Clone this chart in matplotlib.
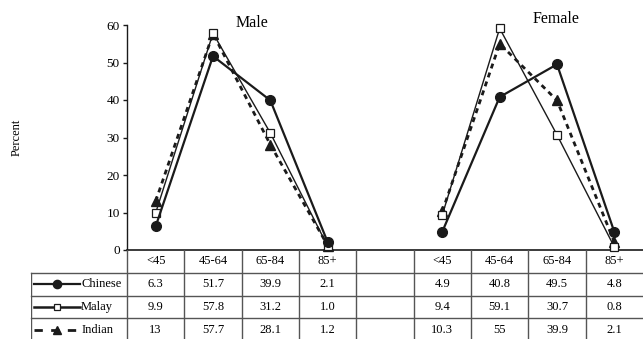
import matplotlib.pyplot as plt

plt.rcParams['font.family'] = ['Liberation Serif', 'DejaVu Serif']

age_groups = ['<45', '45-64', '65-84', '85+']
groups = ['Chinese', 'Malay', 'Indian']

male_chinese = [6.3, 51.7, 39.9, 2.1]
male_malay = [9.9, 57.8, 31.2, 1.0]
male_indian = [13, 57.7, 28.1, 1.2]

female_chinese = [4.9, 40.8, 49.5, 4.8]
female_malay = [9.4, 59.1, 30.7, 0.8]
female_indian = [10.3, 55, 39.9, 2.1]

male_labels = [['6.3', '51.7', '39.9', '2.1'],
               ['9.9', '57.8', '31.2', '1.0'],
               ['13', '57.7', '28.1', '1.2']]
female_labels = [['4.9', '40.8', '49.5', '4.8'],
                 ['9.4', '59.1', '30.7', '0.8'],
                 ['10.3', '55', '39.9', '2.1']]

W, H = 643, 339
fig = plt.figure(figsize=(W / 100, H / 100), dpi=100)

def px_box(x0, x1, y_top, y_bot):
    return [x0 / W, 1 - y_bot / H, (x1 - x0) / W, (y_bot - y_top) / H]

ink = '#1a1a1a'
grid = '#555555'

# line styles per group
styles = {
    'Chinese': dict(color=ink, lw=1.6, ls='-', marker='o', ms=7,
                    mfc=ink, mec=ink),
    'Malay': dict(color=ink, lw=1.0, ls='-', marker='s', ms=5.5,
                  mfc='white', mec=ink, mew=0.9),
    'Indian': dict(color=ink, lw=2.0, ls=(0, (1.8, 1.6)), marker='^', ms=7.5,
                   mfc=ink, mec=ink),
}

ax = fig.add_axes(px_box(127, 643, 25, 250))
male_x = [0, 1, 2, 3]
female_x = [5, 6, 7, 8]
series = {
    'Chinese': (male_chinese, female_chinese),
    'Malay': (male_malay, female_malay),
    'Indian': (male_indian, female_indian),
}
for name in ['Indian', 'Malay', 'Chinese']:
    m, f = series[name]
    ax.plot(male_x, m, clip_on=False, zorder=3, **styles[name])
    ax.plot(female_x, f, clip_on=False, zorder=3, **styles[name])

ax.set_xlim(-0.5, 8.5)
ax.set_ylim(0, 60)
ax.set_yticks(range(0, 61, 10))
ax.set_xticks([])
for s in ['top', 'right']:
    ax.spines[s].set_visible(False)
ax.spines['left'].set_color(ink)
ax.spines['bottom'].set_color(ink)
ax.spines['left'].set_linewidth(1.0)
ax.spines['bottom'].set_linewidth(1.2)
ax.tick_params(axis='y', direction='out', length=3.2, width=1.0,
               color=ink, labelsize=9.5, pad=2)
ax.patch.set_visible(False)

fig.text(252 / W, 1 - 23 / H, 'Male', ha='center', va='center', fontsize=11.5)
fig.text(556 / W, 1 - 19 / H, 'Female', ha='center', va='center',
         fontsize=11.5)
fig.text(17 / W, 1 - 137 / H, 'Percent', ha='center', va='center',
         rotation=90, fontsize=9)

# data table under the plot
col_w = 516 / 9
x_left = -0.5 - (127 - 31) / col_w
row_h = 22.8
tab = fig.add_axes(px_box(31, 643, 250, 339))
tab.set_xlim(x_left, 8.5)
tab.set_ylim((339 - 250) / row_h, 0)
tab.axis('off')

for r in [1, 2, 3]:
    tab.plot([x_left, 8.5], [r, r], color=grid, lw=1.0, clip_on=False)
tab.plot([x_left, x_left], [1, 4], color=grid, lw=1.0)
for c in range(0, 9):
    tab.plot([c - 0.5, c - 0.5], [0, 4], color=grid, lw=1.0)

for i, lab in enumerate(age_groups):
    tab.text(male_x[i], 0.5, lab, ha='center', va='center', fontsize=9)
    tab.text(female_x[i], 0.5, lab, ha='center', va='center', fontsize=9)

for r, name in enumerate(groups):
    y = r + 1.5
    for i in range(4):
        tab.text(male_x[i], y, male_labels[r][i], ha='center', va='center',
                 fontsize=9)
        tab.text(female_x[i], y, female_labels[r][i], ha='center',
                 va='center', fontsize=9)
    # legend key
    kx0 = x_left + (34 - 31) / col_w
    kx1 = x_left + (80 - 31) / col_w
    st = dict(styles[name])
    mk = st.pop('marker')
    ms = st.pop('ms')
    mfc, mec = st.pop('mfc'), st.pop('mec')
    mew = st.pop('mew', 1.0)
    if name == 'Indian':
        st['ls'] = (0, (3, 3))
        st['lw'] = 2.0
    elif name == 'Malay':
        st['lw'] = 1.8
    tab.plot([kx0, kx1], [y, y], **st)
    tab.plot([(kx0 + kx1) / 2], [y], marker=mk, ms=ms * 0.85, mfc=mfc,
             mec=mec, mew=mew, ls='none')
    tab.text(kx1 + 0.02, y, name, ha='left', va='center', fontsize=9)

fig.savefig('out.png', dpi=100)
